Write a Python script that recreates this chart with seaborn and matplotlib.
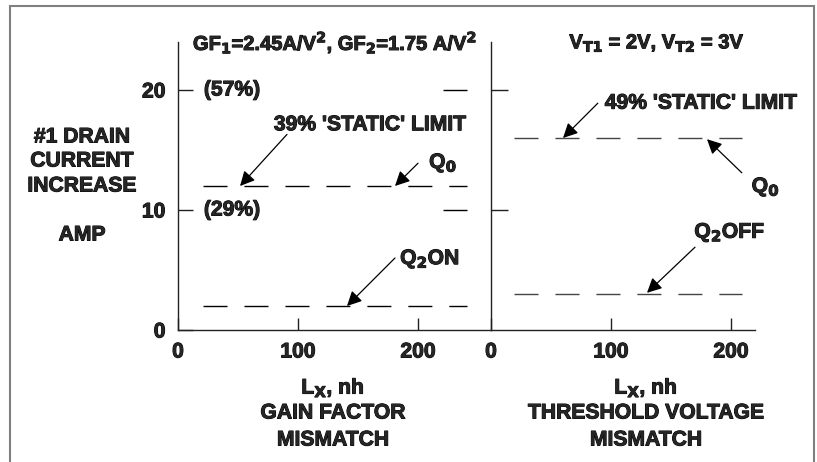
import matplotlib
matplotlib.use("Agg")
import matplotlib.pyplot as plt
import matplotlib.font_manager as fm
import matplotlib.patheffects as pe
import seaborn as sns
import pandas as pd
from matplotlib.patches import Rectangle

# ---------------- data ----------------
gain_x = [21, 241]           # L_X, nh (gain factor mismatch span)
gain_q0 = [12, 12]           # Q0 level, amp
gain_q2on = [2, 2]           # Q2 ON level, amp
thr_x = [19, 209]            # L_X, nh (threshold mismatch span)
thr_q0 = [16, 16]            # Q0 level, amp
thr_q2off = [3, 3]           # Q2 OFF level, amp
stub_x = [221, 241]          # short reference dashes at 10 and 20
stub_levels = [10, 20]
x_ticks = [0, 100, 200]
y_ticks = [0, 10, 20]
pct_labels = ["(57%)", "(29%)"]
pct_levels = [20, 10]

sns.set_theme(style="white")

# locate a real bold Liberation Sans file
bold_path = None
for f in fm.fontManager.ttflist:
    if f.name == "Liberation Sans" and f.weight in (700, "bold") and f.style == "normal":
        bold_path = f.fname
        break
if bold_path is None:
    for f in fm.fontManager.ttflist:
        if "LiberationSans-Bold." in f.fname:
            bold_path = f.fname
            break
if bold_path is not None:
    BP = fm.FontProperties(fname=bold_path)
else:
    BP = fm.FontProperties(family=["Liberation Sans", "DejaVu Sans"], weight="bold")

plt.rcParams["font.family"] = ["Liberation Sans", "DejaVu Sans"]
plt.rcParams["font.weight"] = "bold"
plt.rcParams["mathtext.fontset"] = "custom"
plt.rcParams["mathtext.rm"] = "Liberation Sans:bold"
plt.rcParams["mathtext.it"] = "Liberation Sans:bold"
plt.rcParams["mathtext.bf"] = "Liberation Sans:bold"
plt.rcParams["mathtext.default"] = "rm"

W, H = 817, 462
fig = plt.figure(figsize=(W / 100, H / 100), dpi=100)
FS = 15.2
HEAVY = [pe.withStroke(linewidth=0.7, foreground="black")]


def props(size=FS):
    p = BP.copy()
    p.set_size(size)
    return p


def px_rect(x0, y_top, x1, y_bot):
    return [x0 / W, (H - y_bot) / H, (x1 - x0) / W, (y_bot - y_top) / H]


def ftext(x, y, s, size=FS):
    fig.text(x / W, (H - y) / H, s, fontproperties=props(size),
             ha="center", va="center", path_effects=HEAVY)


def atext(ax, x, y, s):
    ax.text(x, y, s, fontproperties=props(), ha="center", va="center",
            path_effects=HEAVY)


axL = fig.add_axes(px_rect(178, 42, 491, 330))
axR = fig.add_axes(px_rect(491, 42, 755, 330))

DASH = (17.3, 12.2)


def dashed(ax, xs, ys, color):
    df = pd.DataFrame({"x": xs, "y": ys})
    sns.lineplot(data=df, x="x", y="y", ax=ax, color=color, linewidth=1.0)
    ax.lines[-1].set_dashes(DASH)


dashed(axL, gain_x, gain_q0, "black")
dashed(axL, gain_x, gain_q2on, "black")
for lv in stub_levels:
    dashed(axL, stub_x, [lv, lv], "black")
dashed(axR, thr_x, thr_q0, "#444444")
dashed(axR, thr_x, thr_q2off, "#444444")

for ax, xmax in ((axL, 260.8), (axR, 220.0)):
    ax.set_xlim(0, xmax)
    ax.set_ylim(0, 24)
    ax.set_facecolor("none")
    ax.set_xlabel("")
    ax.set_ylabel("")
    for s in ("top", "right"):
        ax.spines[s].set_visible(False)
    for s in ("left", "bottom"):
        ax.spines[s].set_color("#222222")
        ax.spines[s].set_linewidth(1.0)
    ax.set_xticks(x_ticks)
    ax.set_xticklabels([str(v) for v in x_ticks])
    for t in ax.get_xticklabels():
        t.set_fontproperties(props())
        t.set_path_effects(HEAVY)
    ax.tick_params(axis="x", which="both", bottom=True, direction="in", length=8.6,
                   width=1, color="#222222", pad=9)

axL.set_yticks(y_ticks)
axL.set_yticklabels([str(v) for v in y_ticks])
for t in axL.get_yticklabels():
    t.set_fontproperties(props())
    t.set_path_effects(HEAVY)
axL.tick_params(axis="y", left=True, direction="in", length=10.8, width=1,
                color="#222222", pad=9)

axR.set_yticks(stub_levels)
axR.set_yticklabels([])
axR.set_yticks(stub_levels, minor=True)
axR.tick_params(axis="y", which="major", left=True, direction="in", length=12.2,
                width=1, color="#222222")
axR.tick_params(axis="y", which="minor", left=True, direction="out", length=5.0,
                width=1, color="#222222")

for lab, lv in zip(pct_labels, pct_levels):
    atext(axL, 45, lv, lab)

AP = dict(arrowstyle="-|>", mutation_scale=22, lw=0.9, color="black",
          shrinkA=0, shrinkB=0)

# left panel annotations
axL.annotate("", xy=(51.7, 12), xytext=(90.8, 16.3), arrowprops=AP)
atext(axL, 160, 17.1, "39% 'STATIC' LIMIT")
axL.annotate("", xy=(180.8, 12), xytext=(200, 13.9), arrowprops=AP)
atext(axL, 221, 13.9, "Q$_0$")
axL.annotate("", xy=(140.8, 2), xytext=(180.8, 6.0), arrowprops=AP)
atext(axL, 210, 5.9, "Q$_2$ON")

# right panel annotations
axR.annotate("", xy=(60, 16), xytext=(89, 18.9), arrowprops=AP)
atext(axR, 175, 18.9, "49% 'STATIC' LIMIT")
axR.annotate("", xy=(180, 15.9), xytext=(209, 13.1), arrowprops=AP)
atext(axR, 229, 11.9, "Q$_0$")
axR.annotate("", xy=(130, 3.1), xytext=(170, 6.9), arrowprops=AP)
atext(axR, 199, 8.1, "Q$_2$OFF")

# titles
ftext(335, 43, "GF$_1$=2.45A/V$^2$, GF$_2$=1.75 A/V$^2$", size=14.5)
ftext(657, 43, "V$_{T1}$ = 2V, V$_{T2}$ = 3V", size=14.5)

# y label
ftext(82, 137, "#1 DRAIN")
ftext(82, 161, "CURRENT")
ftext(82, 186, "INCREASE")
ftext(82, 235, "AMP")

# x labels
ftext(333, 388, "L$_X$, nh")
ftext(333, 413, "GAIN FACTOR")
ftext(333, 440, "MISMATCH")
ftext(646, 388, "L$_X$, nh")
ftext(646, 413, "THRESHOLD VOLTAGE")
ftext(646, 440, "MISMATCH")

# outer frame
fig.patches.append(Rectangle((10 / W, -0.05), (814 - 10) / W, (H - 6) / H + 0.05,
                             transform=fig.transFigure, fill=False,
                             edgecolor="#808080", linewidth=1.5))

fig.savefig("out.png", dpi=100)
